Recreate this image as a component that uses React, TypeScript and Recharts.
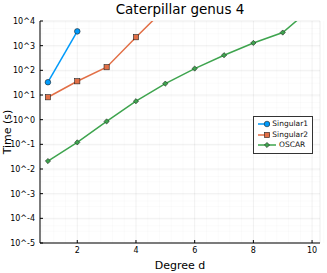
import React from "react";
import {
  LineChart, Line, XAxis, YAxis, CartesianGrid,
} from "recharts";

const degrees = [1, 2, 3, 4, 5, 6, 7, 8, 9, 10];
const singular1 = [33, 3800];
const singular2 = [8.1, 36, 134, 2200, 33000];
const oscar = [0.021, 0.12, 0.85, 5.6, 29, 118, 410, 1290, 3400, 35000];

const xTicks = [2, 4, 6, 8, 10];
const xMinorTicks = [0.8, 1.2, 1.6, 2.4, 2.8, 3.2, 3.6, 4.4, 4.8, 5.2, 5.6, 6.4, 6.8, 7.2, 7.6, 8.4, 8.8, 9.2, 9.6, 10.4];
const yTicks = [1e-5, 1e-4, 1e-3, 1e-2, 1e-1, 1, 1e1, 1e2, 1e3, 1e4];
const yMinorTicks = yTicks.slice(0, -1).flatMap((p) => [2, 3, 4, 5, 6, 7, 8, 9].map((m) => m * p));

const SERIES = [
  { key: "Singular1", color: "#009AFA", shape: "circle", values: singular1 },
  { key: "Singular2", color: "#E26F46", shape: "square", values: singular2 },
  { key: "OSCAR", color: "#3EA44E", shape: "diamond", values: oscar },
];

const data = degrees.map((d, i) => {
  const row: Record<string, number | undefined> = { d };
  SERIES.forEach((s) => { row[s.key] = s.values[i]; });
  return row;
});

const FONT = "'DejaVu Sans', sans-serif";

function Marker({ cx, cy, shape, color }: any) {
  if (cx == null || cy == null || isNaN(cx) || isNaN(cy)) return null;
  const stroke = "#222";
  if (shape === "circle") {
    return <circle cx={cx} cy={cy} r={2.8} fill={color} stroke={stroke} strokeWidth={0.6} />;
  }
  if (shape === "square") {
    return <rect x={cx - 2.6} y={cy - 2.6} width={5.2} height={5.2} fill={color} stroke={stroke} strokeWidth={0.6} />;
  }
  const r = 2.6;
  return (
    <polygon
      points={`${cx},${cy - r} ${cx + r},${cy} ${cx},${cy + r} ${cx - r},${cy}`}
      fill={color}
      stroke={stroke}
      strokeWidth={0.6}
    />
  );
}

const expLabel = (v: number) => `10^${Math.round(Math.log10(v))}`;

function LegendBox() {
  return (
    <div
      style={{
        position: "absolute",
        left: 253,
        top: 116,
        border: "1px solid #333",
        background: "#fff",
        padding: "2px 4px 2px 3px",
        fontFamily: FONT,
        fontSize: 7.5,
        lineHeight: "10px",
        width: 51,
      }}
    >
      {SERIES.map((s) => (
        <div key={s.key} style={{ display: "flex", alignItems: "center", height: 10.5 }}>
          <svg width={20} height={10} style={{ marginRight: 2 }}>
            <line x1={1} x2={19} y1={5} y2={5} stroke={s.color} strokeWidth={1.5} />
            <Marker cx={10} cy={5} shape={s.shape} color={s.color} />
          </svg>
          <span style={{ color: "#111" }}>{s.key}</span>
        </div>
      ))}
    </div>
  );
}

export default function App() {
  return (
    <div style={{ position: "absolute", left: 0, top: 0, width: 327, height: 273, background: "#fff" }}>
      <style>{`body{margin:0}`}</style>
      <LineChart
        width={327}
        height={273}
        data={data}
        margin={{ top: 21, right: 7, left: 0, bottom: 0 }}
        style={{ fontFamily: FONT }}
      >
        <XAxis
          xAxisId="minor"
          dataKey="d"
          type="number"
          domain={[0.73, 10.27]}
          allowDataOverflow
          ticks={xMinorTicks}
          tickFormatter={() => ""}
          tickSize={-2}
          axisLine={false}
          tickLine={{ stroke: "#000", strokeWidth: 0.6 }}
          height={0}
        />
        <YAxis
          yAxisId="minor"
          type="number"
          scale="log"
          domain={[1e-5, 1e4]}
          allowDataOverflow
          ticks={yMinorTicks}
          tickFormatter={() => ""}
          tickSize={-1.5}
          axisLine={false}
          tickLine={{ stroke: "#000", strokeWidth: 0.5 }}
          width={0}
        />
        <CartesianGrid xAxisId="minor" yAxisId="minor" stroke="#000" strokeOpacity={0.04} strokeWidth={0.5} />
        <XAxis
          dataKey="d"
          type="number"
          domain={[0.73, 10.27]}
          allowDataOverflow
          ticks={xTicks}
          tickSize={-3}
          tickMargin={7}
          axisLine={{ stroke: "#000", strokeWidth: 1 }}
          tickLine={{ stroke: "#000", strokeWidth: 1 }}
          tick={{ fill: "#000", fontSize: 8 }}
          height={30}
          label={{ value: "Degree d", position: "insideBottom", offset: 4, fill: "#000", fontSize: 11 }}
        />
        <YAxis
          type="number"
          scale="log"
          domain={[1e-5, 1e4]}
          allowDataOverflow
          ticks={yTicks}
          tickFormatter={expLabel}
          tickSize={-3}
          tickMargin={8}
          axisLine={{ stroke: "#000", strokeWidth: 1 }}
          tickLine={{ stroke: "#000", strokeWidth: 1 }}
          tick={{ fill: "#000", fontSize: 8 }}
          width={40}
          label={{ value: "Time (s)", angle: -90, position: "insideLeft", offset: 7, fill: "#000", fontSize: 11, style: { textAnchor: "middle" } }}
        />
        <CartesianGrid stroke="#000" strokeOpacity={0.1} strokeWidth={0.6} />
        {SERIES.map((s) => (
          <Line
            key={s.key}
            dataKey={s.key}
            stroke={s.color}
            strokeWidth={1.5}
            isAnimationActive={false}
            connectNulls={false}
            dot={(p: any) => <Marker key={`${s.key}-${p.index}`} cx={p.cx} cy={p.cy} shape={s.shape} color={s.color} />}
            activeDot={false}
          />
        ))}
        <text x={180} y={14} textAnchor="middle" fontSize={13.5} fill="#000" fontFamily={FONT}>
          Caterpillar genus 4
        </text>
      </LineChart>
      <LegendBox />
    </div>
  );
}
